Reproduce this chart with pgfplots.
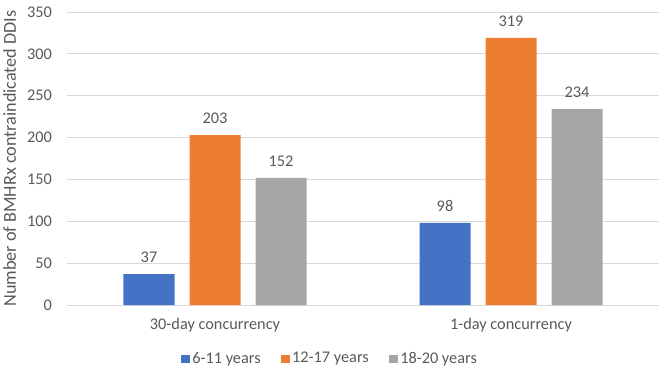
\documentclass[border=0pt]{standalone}
\usepackage{pgfplots}
\pgfplotsset{compat=1.18}
\usepackage{fontspec}
\setmainfont{Carlito}
\definecolor{cblue}{HTML}{4472C4}
\definecolor{corange}{HTML}{ED7D31}
\definecolor{cgray}{HTML}{A5A5A5}
\definecolor{gridc}{HTML}{D9D9D9}
\definecolor{txt}{HTML}{595959}
\newcommand{\chartfont}{\fontsize{16.3bp}{19bp}\selectfont}
\newcommand{\titlefont}{\fontsize{18.2bp}{21bp}\selectfont}
\begin{document}
\chartfont
\begin{tikzpicture}
\begin{axis}[
  scale only axis,
  width=592bp, height=293bp,
  ybar=15bp, bar width=51bp,
  xmin=-0.5, xmax=1.5,
  ymin=0, ymax=350,
  ytick={0,50,...,350},
  xtick={0,1},
  xticklabels={30-day concurrency, 1-day concurrency},
  /pgf/number format/assume math mode=true,
  ymajorgrids, grid style={gridc, line width=0.8pt},
  axis x line*=bottom, axis y line*=left,
  x axis line style={gridc, line width=0.8pt},
  y axis line style={draw=none},
  major tick length=0pt,
  tick label style={font=\chartfont, text=txt},
  yticklabel style={xshift=-9.5bp},
  xticklabel style={yshift=-7.5bp},
  ylabel={Number of BMHRx contraindicated DDIs},
  ylabel style={font=\titlefont, text=txt, yshift=0bp},
  nodes near coords,
  every node near coord/.append style={font=\chartfont, text=txt, yshift=6bp},
  legend columns=3,
  legend style={at={(0.444,-0.184)}, anchor=center, draw=none, fill=none,
    font=\chartfont, text=txt,
    nodes={inner sep=1.5bp},
    /tikz/every odd column/.append style={column sep=1bp},
    /tikz/every even column/.append style={column sep=19bp}},
  legend image code/.code={\fill[#1] (0bp,-4.25bp) rectangle (8.5bp,4.25bp);},
]
\addplot[fill=cblue, draw=none] coordinates {(0,37) (1,98)};
\addplot[fill=corange, draw=none] coordinates {(0,203) (1,319)};
\addplot[fill=cgray, draw=none] coordinates {(0,152) (1,234)};
\legend{6-11 years, 12-17 years, 18-20 years}
\end{axis}
\pgfresetboundingbox
\path (-67bp,-72bp) rectangle (602bp,305bp);
\end{tikzpicture}
\end{document}
